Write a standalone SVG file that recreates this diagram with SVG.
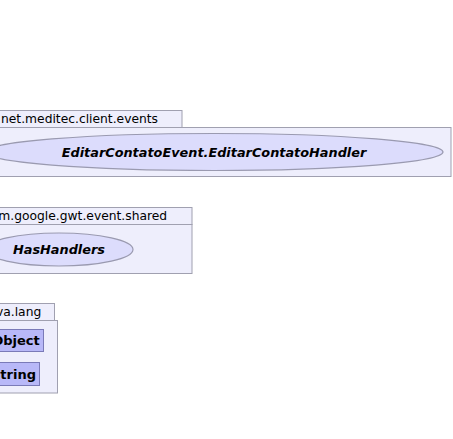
<svg xmlns="http://www.w3.org/2000/svg" width="453" height="439" viewBox="0 0 453 439">
<style>
.pkg{fill:#eeeefc;stroke:#a0a0b0;stroke-width:1}
.pl{font-family:"DejaVu Sans",sans-serif;font-size:12.3px;fill:#000}
.el{fill:#dcdcfc;stroke:#9a9ab0;stroke-width:1.2}
.cls{fill:#b8b8f8;stroke:#7a7ab8;stroke-width:1}
.it{font-family:"DejaVu Sans",sans-serif;font-size:12.85px;font-weight:bold;font-style:italic;text-anchor:middle;fill:#000}
.bd{font-family:"DejaVu Sans",sans-serif;font-size:13px;font-weight:bold;text-anchor:middle;fill:#000}
</style>
<rect width="453" height="439" fill="#ffffff"/>
<g id="pkg-events">
<rect class="pkg" x="-10" y="110.5" width="192" height="17"/>
<rect class="pkg" x="-10" y="127.5" width="461" height="49"/>
<text class="pl" x="1" y="123">net.meditec.client.events</text>
</g>
<g id="pkg-shared">
<rect class="pkg" x="-10" y="207.5" width="202" height="17"/>
<rect class="pkg" x="-10" y="224.5" width="202" height="49"/>
<text class="pl" x="-16" y="220">com.google.gwt.event.shared</text>
</g>
<g id="pkg-lang">
<rect class="pkg" x="-10" y="303.5" width="64.5" height="17"/>
<rect class="pkg" x="-10" y="320.5" width="67.5" height="72.5"/>
<text class="pl" x="-15" y="316">java.lang</text>
</g>
<g id="EditarContatoHandler">
<ellipse class="el" cx="214" cy="152" rx="229" ry="18.5"/>
<text class="it" x="214" y="157">EditarContatoEvent.EditarContatoHandler</text>
</g>
<g id="HasHandlers">
<ellipse class="el" cx="59" cy="249.5" rx="74" ry="16.5"/>
<text class="it" x="59" y="254">HasHandlers</text>
</g>
<g id="Object">
<rect class="cls" x="-12" y="329.5" width="55.5" height="22"/>
<text class="bd" x="16" y="345">Object</text>
</g>
<g id="String">
<rect class="cls" x="-12" y="362.5" width="51.5" height="23"/>
<text class="bd" x="13.5" y="379">String</text>
</g>
<g id="connectors"></g>
</svg>
